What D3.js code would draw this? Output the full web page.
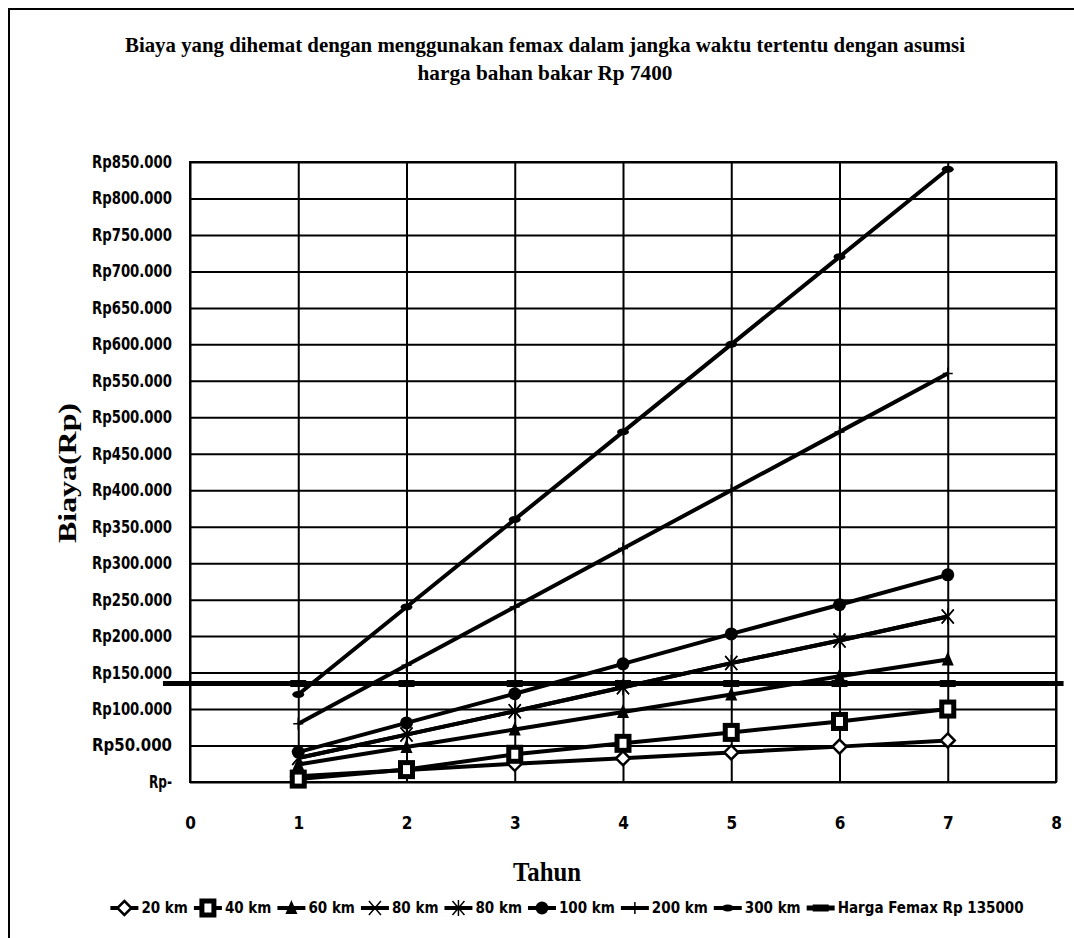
<!DOCTYPE html>
<html><head><meta charset="utf-8">
<script src="https://cdn.jsdelivr.net/npm/d3@7/dist/d3.min.js"></script>
<style>
html,body{margin:0;padding:0;background:#fff;}
svg{display:block;}
.cond{font-family:"Liberation Sans Narrow","Arial Narrow","DejaVu Sans Condensed",sans-serif;font-weight:bold;}
.serif{font-family:"Liberation Serif","Times New Roman",serif;font-weight:bold;}
</style></head>
<body>
<script>
// ---- data ----
const years = [1, 2, 3, 4, 5, 6, 7];
const xTicks = [0, 1, 2, 3, 4, 5, 6, 7, 8];
const yTicks = [0, 50000, 100000, 150000, 200000, 250000, 300000, 350000, 400000, 450000, 500000, 550000, 600000, 650000, 700000, 750000, 800000, 850000];
const km20  = [8000, 16500, 25000, 32500, 40500, 48500, 57000];
const km40  = [4000, 17000, 38000, 53000, 68000, 83000, 100000];
const km60  = [24000, 48000, 72000, 96000, 120000, 145000, 168000];
const km80a = [33000, 65000, 97000, 130000, 163000, 194000, 227000];
const km80b = [33000, 65000, 97000, 130000, 163000, 194000, 227000];
const km100 = [41000, 81000, 121000, 162000, 203000, 243000, 284000];
const km200 = [80000, 160000, 240000, 320000, 400000, 480000, 560000];
const km300 = [120000, 240000, 360000, 480000, 600000, 720000, 840000];
const hargaX = [-0.25, 1, 2, 3, 4, 5, 6, 7, 8.07];
const hargaY = [135000, 135000, 135000, 135000, 135000, 135000, 135000, 135000, 135000];
const seriesNames = ["20 km", "40 km", "60 km", "80 km", "80 km", "100 km", "200 km", "300 km", "Harga Femax Rp 135000"];
const titleLines = ["Biaya yang dihemat dengan menggunakan femax dalam jangka waktu tertentu dengan asumsi", "harga bahan bakar Rp  7400"];
const xTitle = "Tahun";
const yTitle = "Biaya(Rp)";

const W = 1074, H = 938;
const svg = d3.select("body").append("svg").attr("width", W).attr("height", H);

// outer frame
svg.append("rect").attr("x", 9).attr("y", 9).attr("width", W + 10).attr("height", H + 10)
  .attr("fill", "none").attr("stroke", "#000").attr("stroke-width", 2);

const x = d3.scaleLinear().domain([0, 8]).range([190, 1056]);
const y = d3.scaleLinear().domain([0, 850000]).range([782, 162]);

// title
svg.selectAll("text.title").data(titleLines).join("text")
  .attr("class", "serif title")
  .attr("x", 545).attr("y", (d, i) => 52 + i * 28)
  .attr("text-anchor", "middle").attr("font-size", 22)
  .attr("textLength", (d, i) => i === 0 ? 840 : 255)
  .attr("lengthAdjust", "spacingAndGlyphs")
  .text(d => d);

// gridlines + y axis
const fmt = v => v === 0 ? "Rp-" : "Rp" + d3.format(",.0f")(v).replace(/,/g, ".");
const gy = svg.append("g").attr("transform", `translate(${x(0)},0)`)
  .call(d3.axisLeft(y).tickValues(yTicks).tickSize(-(x(8) - x(0))).tickPadding(18).tickFormat(fmt));
gy.select(".domain").remove();
gy.selectAll(".tick line").attr("stroke", "#000").attr("stroke-width", 2);
gy.selectAll(".tick text").attr("class", "cond").attr("font-size", 17).attr("fill", "#000")
  .attr("textLength", function(d){ return d === 0 ? 23 : 80; }).attr("lengthAdjust", "spacingAndGlyphs");

const gx = svg.append("g").attr("transform", `translate(0,${y(0)})`)
  .call(d3.axisBottom(x).tickValues(xTicks).tickSize(-(y(0) - y(850000))).tickPadding(35).tickFormat(d3.format("d")));
gx.select(".domain").remove();
gx.selectAll(".tick line").attr("stroke", "#000").attr("stroke-width", 2);
gx.selectAll(".tick text").attr("class", "cond").attr("font-size", 17).attr("fill", "#000");

// plot border
svg.append("rect").attr("x", x(0)).attr("y", y(850000)).attr("width", x(8) - x(0)).attr("height", y(0) - y(850000))
  .attr("fill", "none").attr("stroke", "#000").attr("stroke-width", 2);

// axis titles
svg.append("text").attr("class", "serif").attr("font-size", 26)
  .attr("transform", `translate(76,473) rotate(-90)`).attr("text-anchor", "middle")
  .attr("textLength", 140).attr("lengthAdjust", "spacingAndGlyphs").text(yTitle);
svg.append("text").attr("class", "serif").attr("font-size", 27)
  .attr("x", 547).attr("y", 881).attr("text-anchor", "middle")
  .attr("textLength", 68).attr("lengthAdjust", "spacingAndGlyphs").text(xTitle);

// markers
function marker(g, type, cx, cy) {
  const s = g.append("g").attr("transform", `translate(${cx},${cy})`);
  switch (type) {
    case "diamond":
      s.append("path").attr("d", "M0,-7L7,0L0,7L-7,0Z").attr("fill", "#fff").attr("stroke", "#000").attr("stroke-width", 2.5); break;
    case "square":
      s.append("rect").attr("x", -6).attr("y", -7).attr("width", 12).attr("height", 14).attr("fill", "#fff").attr("stroke", "#000").attr("stroke-width", 5); break;
    case "triangle":
      s.append("path").attr("d", "M0,-8L6,6L-6,6Z").attr("fill", "#000"); break;
    case "x":
      s.append("path").attr("d", "M-6,-7L6,7M-6,7L6,-7").attr("stroke", "#000").attr("stroke-width", 1.5); break;
    case "star":
      s.append("path").attr("d", "M-6,-7L6,7M-6,7L6,-7M0,-8L0,8").attr("stroke", "#000").attr("stroke-width", 1.5); break;
    case "circle":
      s.append("circle").attr("r", 6.5).attr("fill", "#000"); break;
    case "plus":
      s.append("path").attr("d", "M0,-6L0,6M-5,0L5,0").attr("stroke", "#000").attr("stroke-width", 1.5); break;
    case "dot":
      s.append("ellipse").attr("rx", 6).attr("ry", 3.5).attr("fill", "#000"); break;
    case "dash":
      s.append("rect").attr("x", -8).attr("y", -3.5).attr("width", 16).attr("height", 7).attr("fill", "#000"); break;
  }
}

const series = [
  {vals: km20, m: "diamond"},
  {vals: km40, m: "square"},
  {vals: km60, m: "triangle"},
  {vals: km80a, m: "x"},
  {vals: km80b, m: "star"},
  {vals: km100, m: "circle"},
  {vals: km200, m: "plus"},
  {vals: km300, m: "dot"}
];
const line = d3.line().x(d => x(d[0])).y(d => y(d[1]));
const plot = svg.append("g");
series.forEach(s => {
  const pts = years.map((yr, i) => [yr, s.vals[i]]);
  plot.append("path").attr("d", line(pts)).attr("fill", "none").attr("stroke", "#000").attr("stroke-width", 4);
  pts.forEach(p => marker(plot, s.m, x(p[0]), y(p[1])));
});
// harga femax
const hpts = hargaX.map((v, i) => [v, hargaY[i]]);
plot.append("path").attr("d", line(hpts)).attr("fill", "none").attr("stroke", "#000").attr("stroke-width", 5);
hpts.filter(p => Number.isInteger(p[0])).forEach(p => marker(plot, "dash", x(p[0]), y(p[1])));

// legend
const legendTypes = ["diamond", "square", "triangle", "x", "star", "circle", "plus", "dot", "dash"];
const lg = svg.append("g");
let cursor = 0;
seriesNames.forEach((name, i) => {
  const it = lg.append("g");
  it.append("line").attr("x1", 0).attr("x2", 28).attr("y1", 0).attr("y2", 0).attr("stroke", "#000").attr("stroke-width", i === 8 ? 5 : 4);
  marker(it, legendTypes[i], 14, 0);
  const t = it.append("text").attr("class", "cond").attr("font-size", 15).attr("x", 31).attr("y", 5).text(name);
  const w = 31 + t.node().getComputedTextLength();
  it.attr("transform", `translate(${cursor},0)`);
  cursor += w + 6;
});
const total = cursor - 6;
lg.attr("transform", `translate(${567 - total / 2},908)`);
</script>
</body></html>
